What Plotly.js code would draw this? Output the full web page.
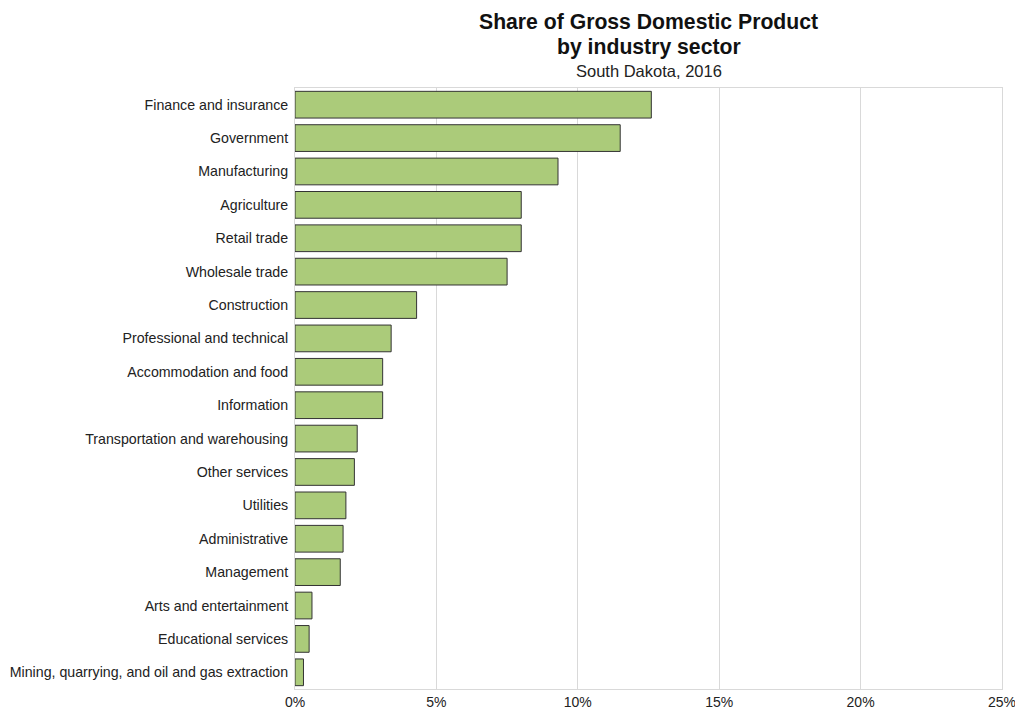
<!DOCTYPE html>
<html>
<head>
<meta charset="utf-8">
<script src="https://cdn.plot.ly/plotly-3.0.1.min.js"></script>
<style>html,body{margin:0;padding:0;background:#fff;}#chart{width:1015px;height:710px;}</style>
</head>
<body>
<div id="chart"></div>
<script>
const sectors = [
  "Finance and insurance",
  "Government",
  "Manufacturing",
  "Agriculture",
  "Retail trade",
  "Wholesale trade",
  "Construction",
  "Professional and technical",
  "Accommodation and food",
  "Information",
  "Transportation and warehousing",
  "Other services",
  "Utilities",
  "Administrative",
  "Management",
  "Arts and entertainment",
  "Educational services",
  "Mining, quarrying, and oil and gas extraction"
];
const sharePct = [12.6, 11.5, 9.3, 8.0, 8.0, 7.5, 4.3, 3.4, 3.1, 3.1, 2.2, 2.1, 1.8, 1.7, 1.6, 0.6, 0.5, 0.3];
const xTicks = [0, 5, 10, 15, 20, 25];
const xTickLabels = ["0%", "5%", "10%", "15%", "20%", "25%"];

const font = "Liberation Sans, Arial, Helvetica, sans-serif";

const trace = {
  type: "bar",
  orientation: "h",
  y: sectors,
  x: sharePct,
  marker: { color: "#abcb7a", line: { color: "#333333", width: 1 } },
  hoverinfo: "x+y"
};

const layout = {
  width: 1015,
  height: 710,
  margin: { l: 295, r: 13, t: 88, b: 21 },
  paper_bgcolor: "#ffffff",
  plot_bgcolor: "#ffffff",
  font: { family: font, size: 14, color: "#222222" },
  showlegend: false,
  bargap: 0.2,
  xaxis: {
    range: [0, 25.0005],
    tickvals: xTicks,
    ticktext: xTickLabels,
    ticklabeloverflow: "allow",
    showgrid: true,
    gridcolor: "#d9d9d9",
    gridwidth: 1,
    zeroline: false,
    showline: true,
    linecolor: "#d9d9d9",
    linewidth: 1,
    mirror: true,
    ticks: "",
    tickfont: { family: font, size: 14, color: "#222222" },
    fixedrange: true
  },
  yaxis: {
    categoryorder: "array",
    categoryarray: sectors,
    autorange: "reversed",
    showgrid: false,
    zeroline: false,
    showline: true,
    linecolor: "#d9d9d9",
    linewidth: 1,
    mirror: true,
    ticks: "",
    ticklabelstandoff: 3,
    tickfont: { family: font, size: 14.2, color: "#222222" },
    fixedrange: true
  },
  annotations: [
    {
      text: "<b>Share of Gross Domestic Product</b>",
      xref: "paper", yref: "paper", x: 0.5, y: 1, xanchor: "center", yanchor: "middle",
      yshift: 67, showarrow: false,
      font: { family: font, size: 21.2, color: "#111111" }
    },
    {
      text: "<b>by industry sector</b>",
      xref: "paper", yref: "paper", x: 0.5, y: 1, xanchor: "center", yanchor: "middle",
      yshift: 41, showarrow: false,
      font: { family: font, size: 21.2, color: "#111111" }
    },
    {
      text: "South Dakota, 2016",
      xref: "paper", yref: "paper", x: 0.5, y: 1, xanchor: "center", yanchor: "middle",
      yshift: 17, showarrow: false,
      font: { family: font, size: 16.5, color: "#222222" }
    }
  ]
};

Plotly.newPlot("chart", [trace], layout, { displayModeBar: false, staticPlot: true });
</script>
</body>
</html>
